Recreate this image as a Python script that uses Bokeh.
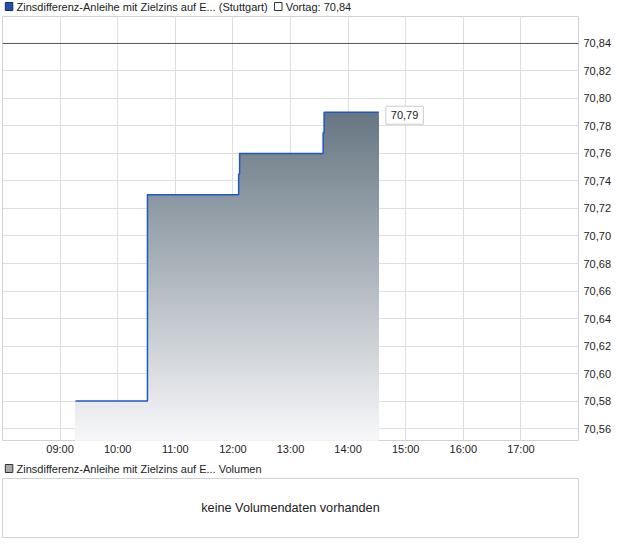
import numpy as np
from bokeh.plotting import figure
from bokeh.models import (Range1d, FixedTicker, CustomJSTickFormatter, Span, Label)
from bokeh.core.properties import value
from bokeh.layouts import column
from bokeh.embed import file_html
from bokeh.resources import INLINE

# ---------------- data ----------------
series_name = "Zinsdifferenz-Anleihe mit Zielzins auf E..."
exchange = "Stuttgart"
trade_times = ["09:16", "10:31", "12:06", "12:07", "13:34", "13:35", "14:32"]
trade_prices = [70.58, 70.73, 70.745, 70.76, 70.775, 70.79, 70.79]
prev_close = 70.84
last_price = 70.79
hour_ticks = [9, 10, 11, 12, 13, 14, 15, 16, 17]
hour_labels = ["09:00", "10:00", "11:00", "12:00", "13:00", "14:00", "15:00", "16:00", "17:00"]
price_ticks = [70.56, 70.58, 70.60, 70.62, 70.64, 70.66, 70.68, 70.70,
               70.72, 70.74, 70.76, 70.78, 70.80, 70.82, 70.84]
volume_note = "keine Volumendaten vorhanden"

FONT = "Liberation Sans"
GRID = "#dedede"
BORDER = "#d2d2d2"
TXT = "#222222"
W = 612


def to_hours(t):
    h, m = t.split(":")
    return int(h) + int(m) / 60.0


def de(v):
    return f"{v:.2f}".replace(".", ",")


xs = [to_hours(t) for t in trade_times]


def header(height, items):
    """A strip with legend squares and texts, in pixel units."""
    h = figure(width=W, height=height, x_range=Range1d(0, W), y_range=Range1d(height, 0),
               output_backend="svg", toolbar_location=None,
               min_border=0, outline_line_color=None,
               background_fill_color="white", border_fill_color="white")
    h.axis.visible = False
    h.grid.visible = False
    for (sx, sy, fill, line, text) in items:
        h.rect(x=[sx + 4], y=[sy], width=8, height=8, fill_color=fill, line_color=line,
               line_width=1)
        h.text(x=[sx + 12], y=[sy], text=[text], text_font=value(FONT),
               text_font_size="11px", text_color=TXT, text_baseline="middle")
    return h


# ---------------- main chart ----------------
p = figure(frame_width=576, frame_height=424,
           x_range=Range1d(8, 18), y_range=Range1d(70.5513, 70.8596),
           y_axis_location="right", output_backend="svg", toolbar_location=None,
           min_border_left=2, min_border_top=0, min_border_right=W - 578,
           min_border_bottom=20,
           background_fill_color="white", border_fill_color="white",
           outline_line_color=BORDER)

# gradient area under the step line (bands drawn top to bottom)
y_lo = p.y_range.start
y_hi = max(trade_prices)
n_bands = 90
edges = np.linspace(y_lo, y_hi, n_bands + 1)
top_rgb = np.array([102, 118, 130])
bot_rgb = np.array([248, 248, 250])
for i in range(n_bands - 1, -1, -1):
    frac = (i + 0.5) / n_bands
    c = (bot_rgb + (top_rgb - bot_rgb) * frac).round().astype(int)
    col = "#%02x%02x%02x" % tuple(c)
    y2 = np.minimum(trade_prices, edges[i + 1])
    p.varea_step(x=xs, y1=[y_lo] * len(xs), y2=list(y2), step_mode="after",
                 fill_color=col)

p.step(xs, trade_prices, mode="after", line_color="#1f56c8", line_width=1.5)

p.add_layout(Span(location=prev_close, dimension="width", line_color="#555555",
                  line_width=1))

p.add_layout(Label(x=xs[-1], y=last_price, text=de(last_price), x_offset=7, y_offset=-3,
                   text_baseline="middle", text_font=FONT, text_font_size="11px",
                   text_color=TXT, background_fill_color="white",
                   border_line_color="#cccccc", padding=5))

# grids
p.xgrid.ticker = FixedTicker(ticks=hour_ticks)
p.ygrid.ticker = FixedTicker(ticks=price_ticks)
p.grid.grid_line_color = GRID

# axes
p.xaxis.ticker = FixedTicker(ticks=hour_ticks)
p.xaxis.major_label_overrides = {h: lab for h, lab in zip(hour_ticks, hour_labels)}
p.yaxis.ticker = FixedTicker(ticks=price_ticks)
p.yaxis.formatter = CustomJSTickFormatter(code="return tick.toFixed(2).replace('.', ',');")
for ax in (p.xaxis, p.yaxis):
    ax.axis_line_color = None
    ax.major_tick_line_color = None
    ax.minor_tick_line_color = None
    ax.major_tick_out = 0
    ax.major_tick_in = 0
    ax.minor_tick_out = 0
    ax.minor_tick_in = 0
    ax.major_label_text_font = FONT
    ax.major_label_text_font_size = "11px"
    ax.major_label_text_color = TXT
p.xaxis.major_label_standoff = 2
p.yaxis.major_label_standoff = 5

# legend strips
leg_main = header(16, [(3, 6, "#1f4fb5", "#1b2b55", f"{series_name} ({exchange})"),
                       (290, 6, "white", "#333333", f"Vortag: {de(prev_close)}")])
leg_vol = header(18, [(3, 8, "#a8a8a8", "#333333", f"{series_name} Volumen")])

# ---------------- volume panel ----------------
pv = figure(frame_width=576, frame_height=59, x_range=Range1d(0, 1), y_range=Range1d(0, 1),
            output_backend="svg", toolbar_location=None,
            min_border_left=2, min_border_top=0, min_border_right=W - 578,
            min_border_bottom=1,
            background_fill_color="white", border_fill_color="white",
            outline_line_color=BORDER)
pv.axis.visible = False
pv.grid.visible = False
pv.add_layout(Label(x=0.5, y=0.5, text=volume_note, text_align="center",
                    text_baseline="middle", text_font=FONT, text_font_size="12.7px",
                    text_color=TXT))

layout = column(leg_main, p, leg_vol, pv, spacing=0)

open("out.html", "w").write(file_html(layout, INLINE))
